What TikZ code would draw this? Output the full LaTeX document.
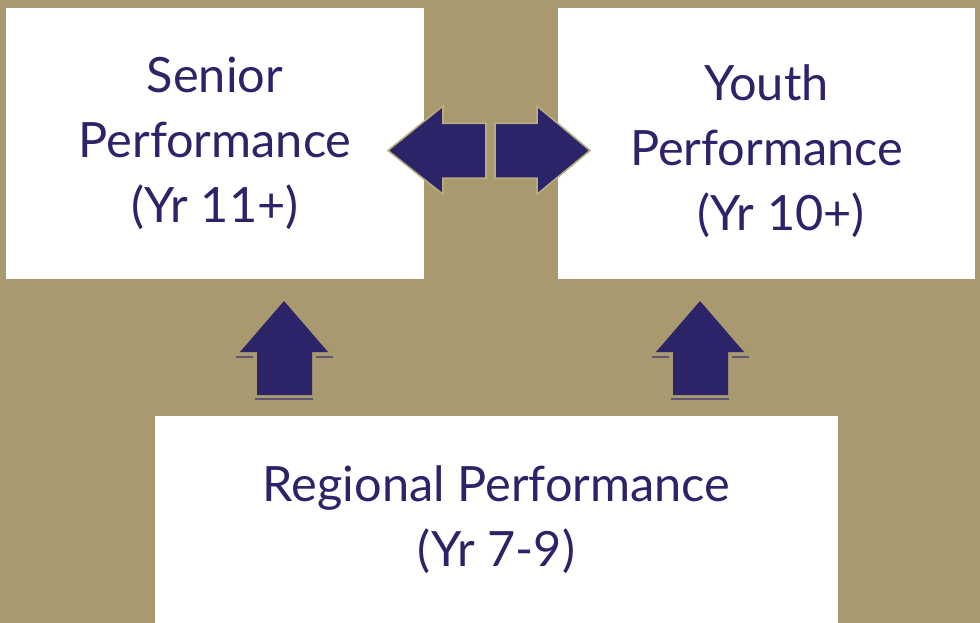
\documentclass[tikz,border=0pt]{standalone}
\usepackage{fontspec}
\setmainfont{Lato}
\usetikzlibrary{positioning}
\definecolor{bgtan}{HTML}{A89A6E}
\definecolor{edgetan}{HTML}{B8AB80}
\definecolor{deepnavy}{HTML}{2C2468}
\definecolor{shadowline}{HTML}{5E5672}

\begin{document}
\begin{tikzpicture}[x=0.75pt,y=-0.75pt,
  box/.style={fill=white, align=center, text=deepnavy, inner sep=0pt,
    font=\fontsize{36.5}{48.75}\selectfont},
  blockarrow/.style={fill=deepnavy, draw=edgetan, line width=1.2pt, line join=miter},
  ledge/.style={draw=shadowline, line width=0.8pt}]
\fill[bgtan] (0,0) rectangle (980,623);
\node[box, minimum width=313.5pt, minimum height=203.25pt] (senior) at (215,143.5) {Senior\\Performance\\(Yr 11+)};
\node[box, minimum width=312.75pt, minimum height=203.25pt] (youth) at (766.5,143.5) {};
\node[text=deepnavy, align=center, font=\fontsize{36.5}{48.75}\selectfont] (youthtext) at (766.5,151) {Youth\\Performance\\\hspace*{0.6em}(Yr 10+)};
\node[box, minimum width=512.25pt, minimum height=155.25pt] (regional) at (496.5,519.5) {Regional Performance\\(Yr 7-9)};
% double arrow between the top boxes
\draw[blockarrow] (388,150.5) -- (443,106) -- (443,123.3) -- (486,123.3) -- (486,178.3) -- (443,178.3) -- (443,194.3) -- cycle;
\draw[blockarrow] (590,150.5) -- (537,106) -- (537,123.3) -- (495,123.3) -- (495,178.3) -- (537,178.3) -- (537,194.3) -- cycle;
% up arrows
\foreach \cx in {284,700} {
  \fill[deepnavy] (\cx,301) -- (\cx+44,352) -- (\cx+28,352) -- (\cx+28,395) -- (\cx-27,395) -- (\cx-27,352) -- (\cx-44,352) -- cycle;
  \draw[ledge] (\cx-48,357) -- (\cx-31,357);
  \draw[ledge] (\cx+32,357) -- (\cx+49,357);
  \draw[ledge] (\cx-29,399) -- (\cx+29,399);
}
\end{tikzpicture}
\end{document}
